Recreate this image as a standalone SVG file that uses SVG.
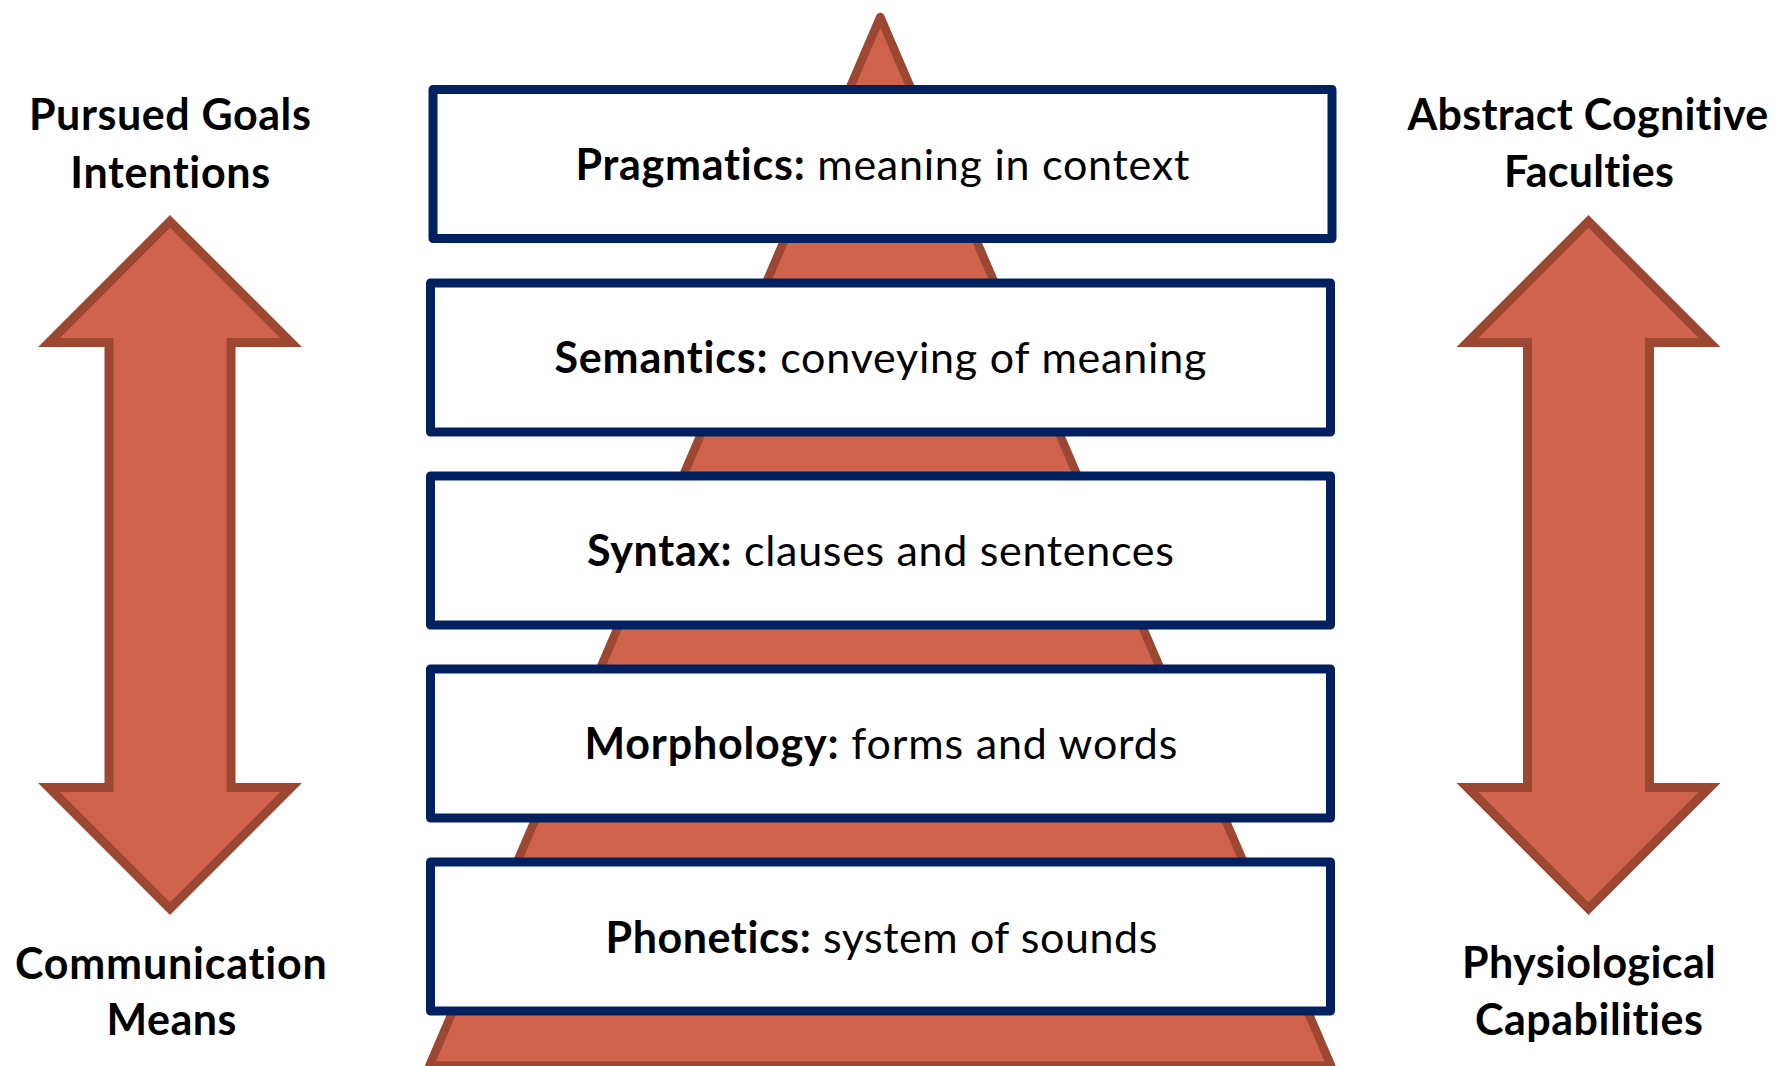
<svg xmlns="http://www.w3.org/2000/svg" width="1776" height="1066" viewBox="0 0 1776 1066">
  <defs>
    <style>
      .pyr { fill: #D0634B; stroke: #9C4732; stroke-width: 8.5; stroke-linejoin: round; }
      .arrow { fill: #D0634B; stroke: #9C4732; stroke-width: 9; stroke-linejoin: miter; }
      .layer rect { fill: #FFFFFF; stroke: #002060; stroke-width: 9; stroke-linejoin: round; }
      text { font-variant-ligatures: none; font-feature-settings: "liga" 0, "clig" 0, "dlig" 0, "calt" 0; letter-spacing: 0.2px; }
      .layer text { font-family: Lato, "Liberation Sans", sans-serif; font-size: 43px; fill: #000000; text-anchor: middle; }
      .layer .key { font-weight: 700; }
      .side text { font-family: Lato, "Liberation Sans", sans-serif; font-size: 43px; font-weight: 700; fill: #000000; text-anchor: middle; }
    </style>
    <!-- double-headed vertical arrow, centred on x = 0 -->
    <path id="dbl-arrow" d="M0,221.4 L121.1,342.5 L61,342.5 L61,787.5 L121.1,787.5 L0,908.6 L-121.1,787.5 L-61,787.5 L-61,342.5 L-121.1,342.5 Z"/>
  </defs>

  <rect width="1776" height="1066" fill="#FFFFFF"/>

  <!-- pyramid behind the layers -->
  <g id="pyramid">
    <polygon class="pyr" points="880.3,17 1331,1065.5 429.5,1065.5"/>
  </g>

  <!-- language layers, top to bottom -->
  <g id="pragmatics" class="layer">
    <rect x="433" y="89.5" width="899" height="149"/>
    <text x="882.5" y="180" textLength="614"><tspan class="key">Pragmatics:</tspan> meaning in context</text>
  </g>
  <g id="semantics" class="layer">
    <rect x="430.5" y="283" width="900" height="149"/>
    <text x="880.5" y="373" textLength="652"><tspan class="key">Semantics:</tspan> conveying of meaning</text>
  </g>
  <g id="syntax" class="layer">
    <rect x="430.5" y="476" width="900" height="149"/>
    <text x="880.5" y="566" textLength="587"><tspan class="key">Syntax:</tspan> clauses and sentences</text>
  </g>
  <g id="morphology" class="layer">
    <rect x="430.5" y="669" width="900" height="149"/>
    <text x="881" y="759" textLength="593"><tspan class="key">Morphology:</tspan> forms and words</text>
  </g>
  <g id="phonetics" class="layer">
    <rect x="430.5" y="862" width="900" height="149"/>
    <text x="881.5" y="952.5" textLength="552"><tspan class="key">Phonetics:</tspan> system of sounds</text>
  </g>

  <!-- side scales -->
  <g id="connectors">
    <use href="#dbl-arrow" class="arrow" transform="translate(170,0)"/>
    <use href="#dbl-arrow" class="arrow" transform="translate(1588.5,0)"/>
  </g>

  <g id="goals" class="side">
    <text x="170" y="130" textLength="282">Pursued Goals</text>
    <text x="170.3" y="188" textLength="200">Intentions</text>
  </g>
  <g id="means" class="side">
    <text x="171" y="979" textLength="312">Communication</text>
    <text x="171.5" y="1035" textLength="130">Means</text>
  </g>
  <g id="cognitive" class="side">
    <text x="1588" y="130" textLength="361">Abstract Cognitive</text>
    <text x="1589" y="187" textLength="170">Faculties</text>
  </g>
  <g id="physiological" class="side">
    <text x="1589" y="978" textLength="254">Physiological</text>
    <text x="1589" y="1034.5" textLength="228">Capabilities</text>
  </g>
</svg>
